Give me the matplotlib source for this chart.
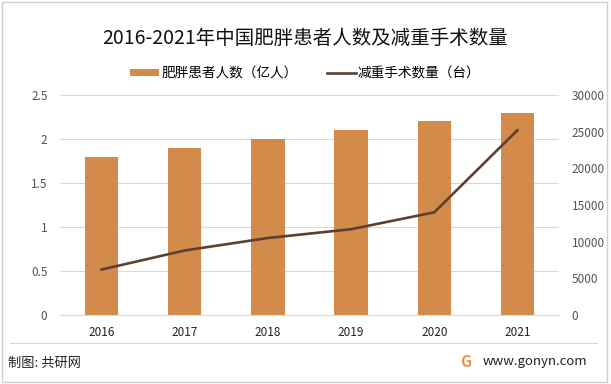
import matplotlib
matplotlib.use("Agg")
import matplotlib.pyplot as plt
from matplotlib.patches import Rectangle

plt.rcParams['font.family'] = ['Noto Sans CJK SC', 'DejaVu Sans']

years = ["2016", "2017", "2018", "2019", "2020", "2021"]
obese_people = [1.8, 1.9, 2.0, 2.1, 2.2, 2.3]          # 亿人
surgeries = [6200, 8800, 10500, 11700, 14000, 25200]   # 台

BAR_COLOR = "#D38B4C"
LINE_COLOR = "#5C4030"

fig = plt.figure(figsize=(6.11, 3.84), dpi=100)
fig.patches.append(Rectangle((0.004, 0.006), 0.990, 0.99, transform=fig.transFigure,
                             fill=False, edgecolor="#D0D0D0", lw=1))

ax = fig.add_axes([60 / 611, 1 - 315 / 384, 499 / 611, 220 / 384])
ax2 = ax.twinx()

x = list(range(len(years)))
b = ax.bar(x, obese_people, width=0.4, color=BAR_COLOR, zorder=2, label="肥胖患者人数（亿人）")
ln, = ax2.plot(x, surgeries, color=LINE_COLOR, lw=1.9, label="减重手术数量（台）")

ax.set_xlim(-0.5, 5.5)
ax.set_ylim(0, 2.5)
ax.set_yticks([0, 0.5, 1, 1.5, 2, 2.5])
ax.set_yticklabels(["0", "0.5", "1", "1.5", "2", "2.5"])
ax2.set_ylim(0, 30000)
ax2.set_yticks(range(0, 30001, 5000))

ax.set_xticks(x)
ax.set_xticklabels(years)
ax.grid(axis="y", color="#D9D9D9", lw=0.8, zorder=0)
ax.set_axisbelow(True)

for a in (ax, ax2):
    for s in a.spines.values():
        s.set_visible(False)
    a.tick_params(length=0, labelsize=8.5, colors="#555555")
ax.spines["bottom"].set_visible(True)
ax.spines["bottom"].set_color("#D9D9D9")
ax.tick_params(axis="y", pad=9)
ax2.tick_params(axis="y", pad=9)
ax.tick_params(axis="x", pad=8, labelcolor="#222222")

fig.text(0.5, 1 - 38 / 384, "2016-2021年中国肥胖患者人数及减重手术数量",
         ha="center", va="center", fontsize=14, color="#111111")
fig.legend(handles=[b, ln], loc="center", bbox_to_anchor=(0.5, 1 - 73 / 384),
           ncol=2, frameon=False, fontsize=9.8, handlelength=2.1, handleheight=0.4,
           columnspacing=2.2, handletextpad=0.15)

fig.add_artist(plt.Line2D([10 / 611, 597 / 611], [1 - 343 / 384] * 2,
                          transform=fig.transFigure, color="#D9D9D9", lw=0.8))
fig.text(8 / 611, 1 - 363 / 384, "制图: 共研网", ha="left", va="center",
         fontsize=9.5, color="#222222")
fig.text(483 / 611, 1 - 362 / 384, "www.gonyn.com", ha="left", va="center",
         fontsize=9.5, color="#222222")
fig.text(466 / 611, 1 - 362 / 384, "G", ha="center", va="center",
         fontsize=11, color="#F28C48", weight="bold")

fig.savefig("out.png", dpi=100)
